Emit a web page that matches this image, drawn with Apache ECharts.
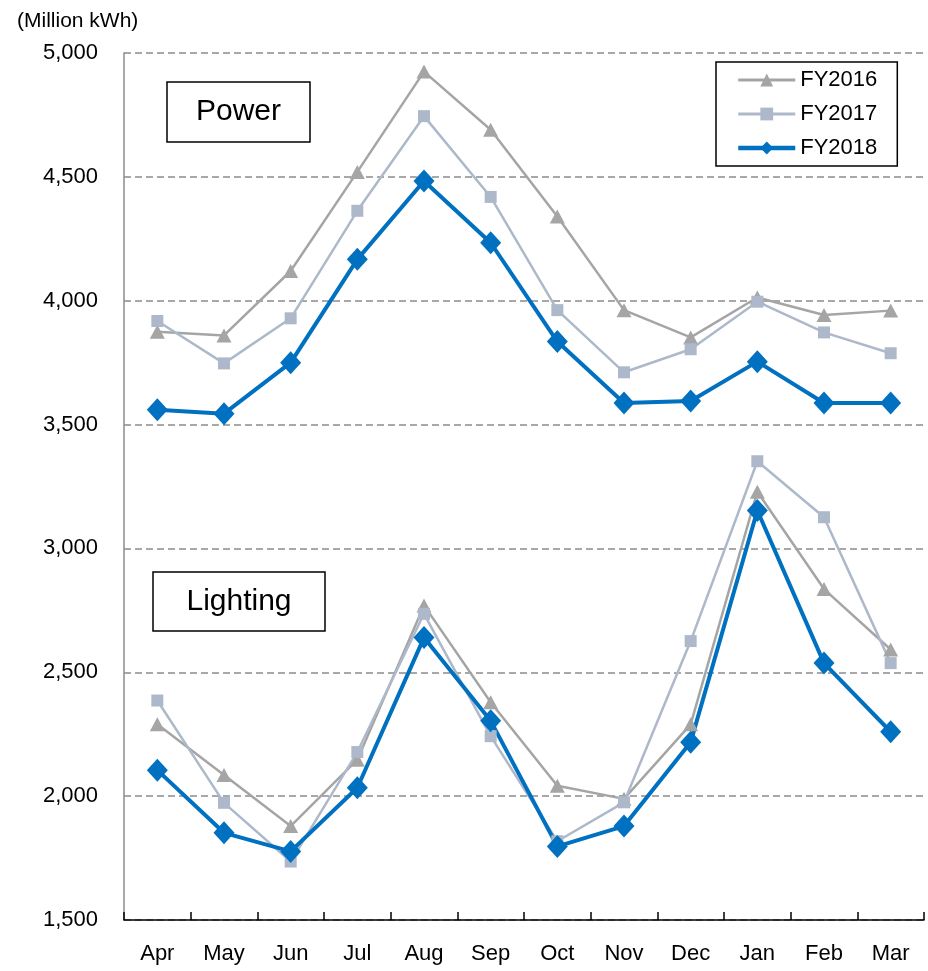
<!DOCTYPE html>
<html><head><meta charset="utf-8">
<script src="https://cdn.jsdelivr.net/npm/echarts@6/dist/echarts.min.js"></script>
<style>html,body{margin:0;padding:0;background:#fff}#c{width:928px;height:971px}</style>
</head><body><div id="c"></div>
<script>
const months = ['Apr','May','Jun','Jul','Aug','Sep','Oct','Nov','Dec','Jan','Feb','Mar'];
const yearNames = ['FY2016','FY2017','FY2018'];
const power2016 = [3875, 3860, 4120, 4520, 4925, 4690, 4340, 3962, 3852, 4013, 3942, 3960];
const power2017 = [3918, 3747, 3929, 4363, 4745, 4419, 3962, 3711, 3804, 3996, 3872, 3788];
const power2018 = [3560, 3544, 3750, 4167, 4483, 4234, 3835, 3587, 3595, 3754, 3587, 3587];
const light2016 = [2290, 2085, 1879, 2147, 2770, 2379, 2042, 1989, 2290, 3229, 2836, 2592];
const light2017 = [2386, 1973, 1736, 2178, 2736, 2242, 1818, 1975, 2626, 3352, 3126, 2537];
const light2018 = [2105, 1852, 1777, 2034, 2640, 2304, 1797, 1879, 2218, 3153, 2537, 2260];
const yMin = 1500, yMax = 5000, yStep = 500;
const unitLabel = '(Million kWh)';
const panelLabels = ['Power', 'Lighting'];

const FONT = "'Liberation Sans', Arial, sans-serif";
const FS = 22, FS_UNIT = 21, FS_BOX = 30;

const styles = {
  FY2016: {symbol: 'triangle', symbolSize: [15, 14], color: '#A5A5A5', width: 2.5, legendWidth: 3},
  FY2017: {symbol: 'rect', symbolSize: 12, color: '#ADB9CA', width: 2.5, legendWidth: 3},
  FY2018: {symbol: 'diamond', symbolSize: [21, 23], color: '#0070C0', width: 4, legendWidth: 4.5}
};
function mk(name, data) {
  const s = styles[name];
  return {
    name: name, type: 'line', data: data,
    symbol: s.symbol, symbolSize: s.symbolSize, showAllSymbol: true,
    lineStyle: {color: s.color, width: s.width},
    itemStyle: {color: s.color},
    emphasis: {disabled: true}
  };
}
const chart = echarts.init(document.getElementById('c'), null, {renderer: 'canvas'});
chart.setOption({
  animation: false,
  backgroundColor: '#fff',
  textStyle: {fontFamily: FONT},
  grid: {left: 124, right: 4, top: 53, bottom: 51, containLabel: false},
  legend: {
    data: yearNames.map(n => ({name: n, lineStyle: {width: styles[n].legendWidth, color: styles[n].color}})),
    orient: 'vertical',
    left: 716, top: 62,
    padding: [7, 20, 7, 20],
    borderColor: '#000', borderWidth: 1.5,
    backgroundColor: '#fff',
    itemWidth: 57, itemHeight: 16, itemGap: 12,
    textStyle: {fontSize: FS, color: '#000', fontFamily: FONT, lineHeight: 22}
  },
  xAxis: {
    type: 'category', data: months, boundaryGap: true,
    axisLine: {show: true, lineStyle: {color: '#000', width: 1.5}},
    axisTick: {show: true, inside: true, interval: 0, length: 8, lineStyle: {color: '#000', width: 1.5}},
    axisLabel: {fontSize: FS, color: '#000', margin: 23, fontFamily: FONT}
  },
  yAxis: {
    type: 'value', min: yMin, max: yMax, interval: yStep,
    axisLine: {show: true, lineStyle: {color: '#8c8c8c', width: 1.5}},
    axisTick: {show: false},
    axisLabel: {fontSize: FS, color: '#000', margin: 26, fontFamily: FONT,
      formatter: v => v.toLocaleString('en-US')},
    splitLine: {show: true, lineStyle: {color: '#8c8c8c', width: 1.5, type: [7, 4]}}
  },
  graphic: [
    {type: 'text', left: 17, top: 11, style: {text: unitLabel, fill: '#000', font: FS_UNIT + 'px ' + FONT}},
    {type: 'rect', shape: {x: 167, y: 82, width: 143, height: 60}, style: {fill: '#fff', stroke: '#000', lineWidth: 1.5}, z: 10},
    {type: 'text', x: 238.5, y: 112, style: {text: panelLabels[0], font: FS_BOX + 'px ' + FONT, fill: '#000', textAlign: 'center', textVerticalAlign: 'middle'}, z: 11},
    {type: 'rect', shape: {x: 153, y: 572, width: 172, height: 59}, style: {fill: '#fff', stroke: '#000', lineWidth: 1.5}, z: 10},
    {type: 'text', x: 239, y: 601.5, style: {text: panelLabels[1], font: FS_BOX + 'px ' + FONT, fill: '#000', textAlign: 'center', textVerticalAlign: 'middle'}, z: 11}
  ],
  series: [
    mk('FY2016', power2016), mk('FY2017', power2017), mk('FY2018', power2018),
    mk('FY2016', light2016), mk('FY2017', light2017), mk('FY2018', light2018)
  ]
});
</script></body></html>
